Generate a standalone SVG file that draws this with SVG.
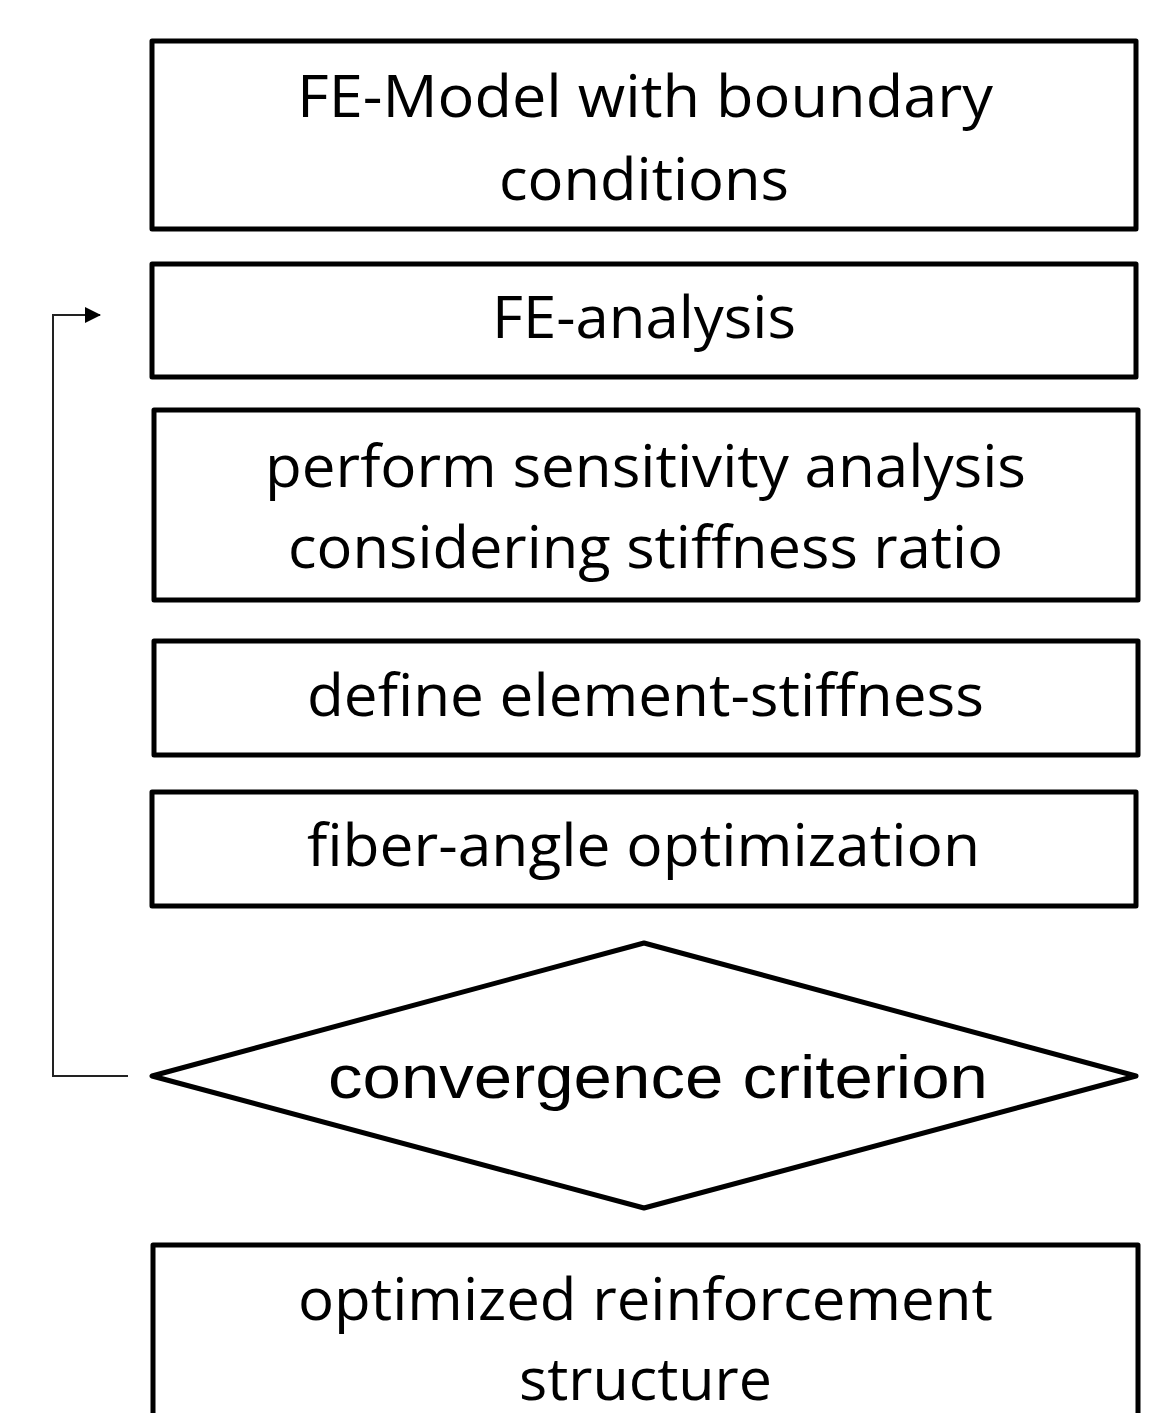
<svg xmlns="http://www.w3.org/2000/svg" width="1170" height="1413" viewBox="0 0 1170 1413">
<defs>
<style>
.box{fill:#fff;stroke:#000;stroke-width:5;stroke-linejoin:round}
.t{font-family:"Open Sans","Noto Sans",sans-serif;font-size:58px;fill:#000}
.ta{font-family:"Liberation Sans",Arial,sans-serif;font-size:62px;fill:#000}
.conn{fill:none;stroke:#222;stroke-width:2}
</style>
<marker id="arr" viewBox="0 0 16 16" refX="15" refY="8" markerWidth="16" markerHeight="16" orient="auto" markerUnits="userSpaceOnUse"><path d="M0,0 L16,8 L0,16 z" fill="#000"/></marker>
</defs>
<rect width="1170" height="1413" fill="#fff"/>
<g id="connectors">
<polyline class="conn" points="128,1076 53,1076 53,315 100,315" marker-end="url(#arr)"/>
</g>
<g id="n1">
<rect class="box" x="152" y="41" width="984" height="188"/>
<text class="t" x="297" y="117" textLength="696" lengthAdjust="spacingAndGlyphs">FE-Model with boundary</text>
<text class="t" x="499" y="200" textLength="290" lengthAdjust="spacingAndGlyphs">conditions</text>
</g>
<g id="n2">
<rect class="box" x="152" y="264" width="984" height="113"/>
<text class="t" x="492" y="338" textLength="304" lengthAdjust="spacingAndGlyphs">FE-analysis</text>
</g>
<g id="n3">
<rect class="box" x="154" y="410" width="984" height="190"/>
<text class="t" x="265" y="487" textLength="761" lengthAdjust="spacingAndGlyphs">perform sensitivity analysis</text>
<text class="t" x="288" y="568" textLength="715" lengthAdjust="spacingAndGlyphs">considering stiffness ratio</text>
</g>
<g id="n4">
<rect class="box" x="154" y="641" width="984" height="114"/>
<text class="t" x="307" y="716" textLength="677" lengthAdjust="spacingAndGlyphs">define element-stiffness</text>
</g>
<g id="n5">
<rect class="box" x="152" y="792" width="984" height="114"/>
<text class="t" x="307" y="866" textLength="673" lengthAdjust="spacingAndGlyphs">fiber-angle optimization</text>
</g>
<g id="n6">
<polygon class="box" points="152,1076 644,943 1136,1076 644,1208"/>
<text class="ta" x="328" y="1098" textLength="660" lengthAdjust="spacingAndGlyphs">convergence criterion</text>
</g>
<g id="n7">
<rect class="box" x="153" y="1245" width="985" height="200"/>
<text class="t" x="298" y="1320" textLength="695" lengthAdjust="spacingAndGlyphs">optimized reinforcement</text>
<text class="t" x="519" y="1400" textLength="253" lengthAdjust="spacingAndGlyphs">structure</text>
</g>
</svg>
